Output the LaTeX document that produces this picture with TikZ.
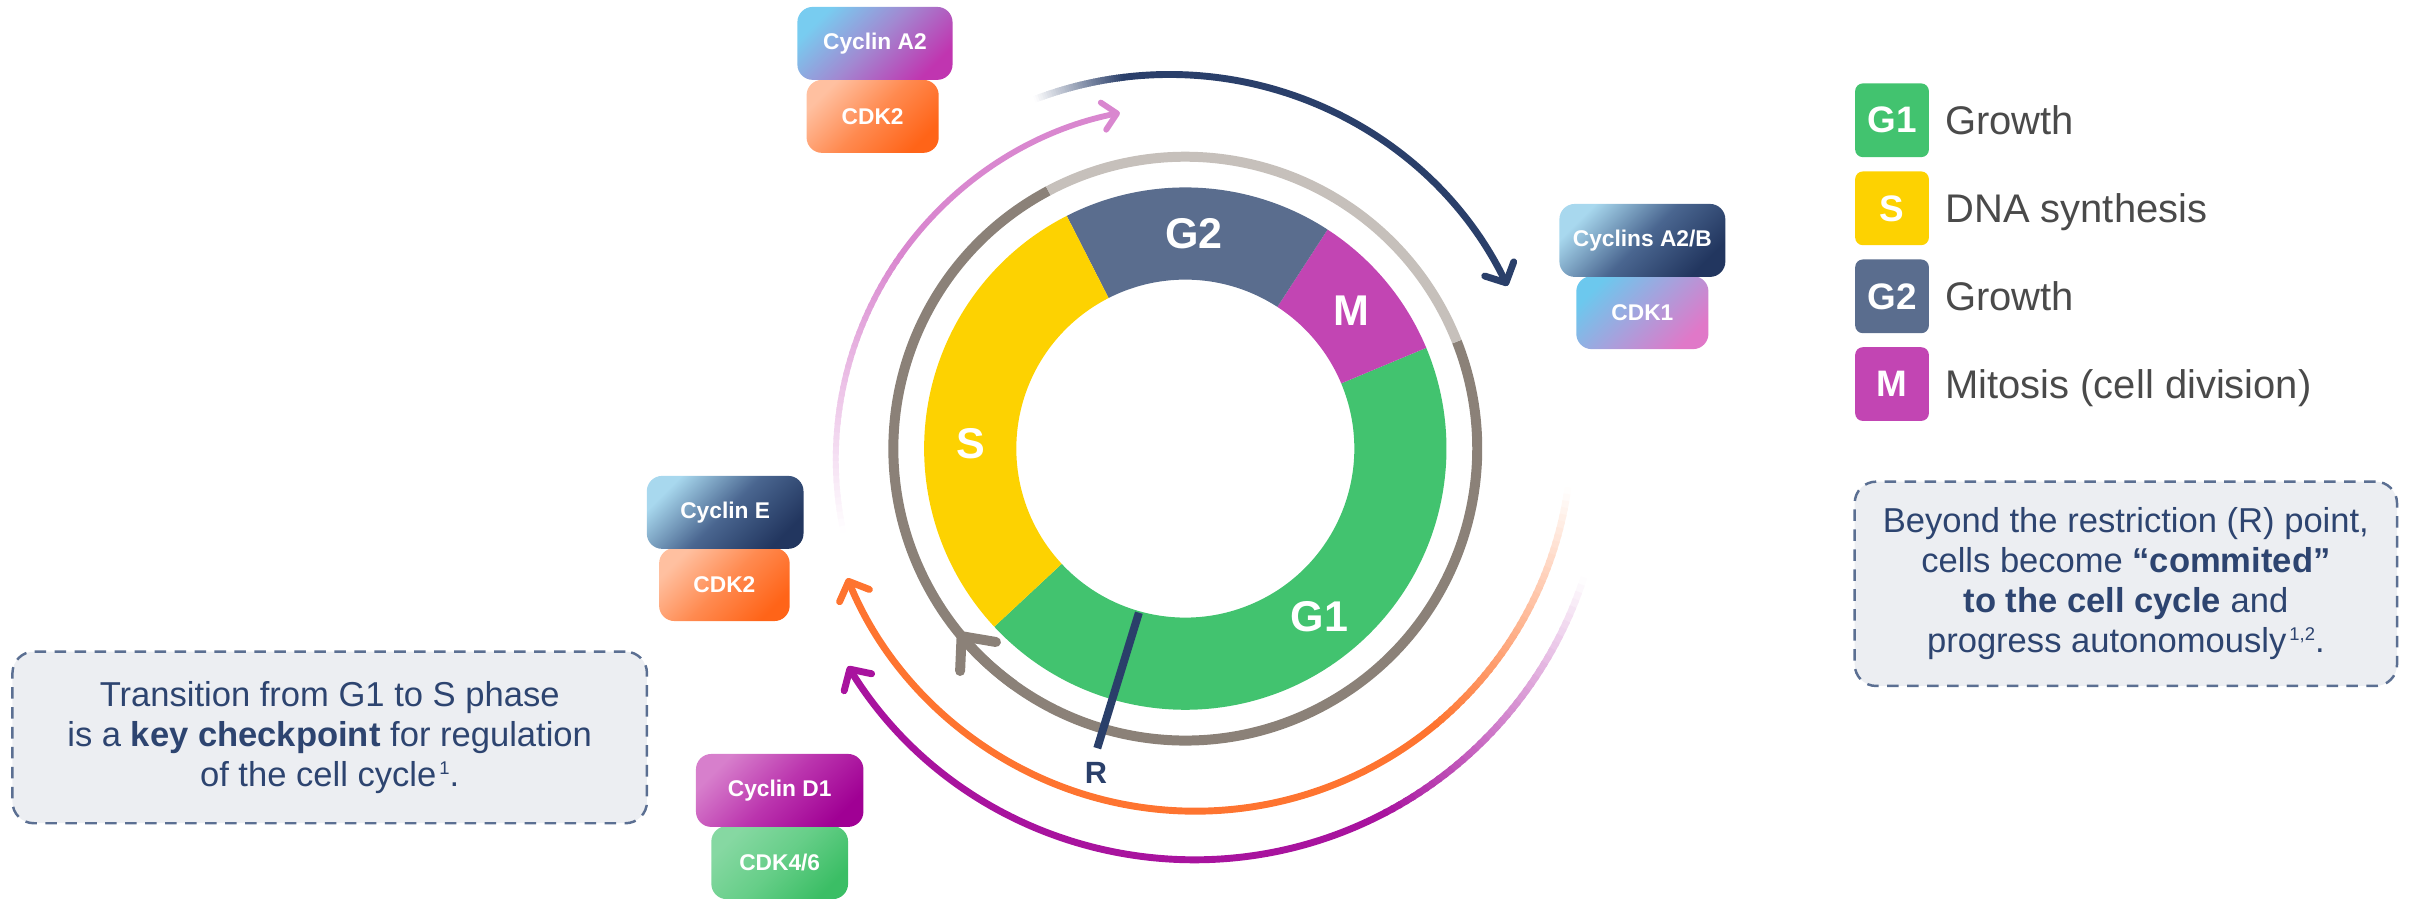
\documentclass[tikz,border=0pt]{standalone}
\usepackage{fontspec}
\setmainfont{Liberation Sans}
\usetikzlibrary{arrows.meta}
\definecolor{cG1}{HTML}{42C36F}
\definecolor{cS}{HTML}{FDD201}
\definecolor{cG2}{HTML}{5A6D8E}
\definecolor{cM}{HTML}{C245B3}
\definecolor{navy}{HTML}{2A3F6A}
\definecolor{rdark}{HTML}{8B8178}
\definecolor{rlight}{HTML}{C6C0BB}
\definecolor{pinkarc}{HTML}{D987CF}
\definecolor{orangearc}{HTML}{FE7430}
\definecolor{purplearc}{HTML}{A8139E}
\definecolor{legtext}{HTML}{4A4A4A}
\definecolor{notefill}{HTML}{ECEEF2}
\definecolor{notedraw}{HTML}{5B6F92}
\definecolor{notetext}{HTML}{2D4470}
\definecolor{gA2a}{HTML}{78CCF0}\definecolor{gA2m}{HTML}{A386D0}\definecolor{gA2b}{HTML}{C035B0}
\definecolor{gK2a}{HTML}{FFC0A0}\definecolor{gK2m}{HTML}{FF8A50}\definecolor{gK2b}{HTML}{FF6418}
\definecolor{gABa}{HTML}{A8D8EE}\definecolor{gABm}{HTML}{4A6690}\definecolor{gABb}{HTML}{22365F}
\definecolor{gK1a}{HTML}{6CC8EE}\definecolor{gK1m}{HTML}{A8A0DC}\definecolor{gK1b}{HTML}{E078C8}
\definecolor{gEa}{HTML}{A8D8EE}\definecolor{gEm}{HTML}{4A6690}\definecolor{gEb}{HTML}{22365F}
\definecolor{gDa}{HTML}{D77FCC}\definecolor{gDm}{HTML}{BB35AE}\definecolor{gDb}{HTML}{A00094}
\definecolor{gK4a}{HTML}{86D8A2}\definecolor{gK4m}{HTML}{66CE88}\definecolor{gK4b}{HTML}{3BBE65}
\newcommand\cbxfont{\fontsize{14.8}{17}\selectfont\bfseries}
\newcommand\ntfont{\fontsize{22.5}{26}\selectfont}
\newcommand\lgsqfont{\fontsize{24}{28}\selectfont\bfseries}
\newcommand\lgfont{\fontsize{26}{30}\selectfont}
\newcommand\phfont{\fontsize{28}{32}\selectfont\bfseries}
\newcommand\mysup[1]{\kern2pt\raisebox{8pt}{\fontsize{12}{12}\selectfont #1}}
% fading arc: cx, cy, r, a-start(faint), a-solid, a-tip, colour, width, tip options
\newcommand\fadearc[9]{%
  \foreach \k in {0,...,39}{%
    \pgfmathsetmacro\aa{#4+(#5-#4)*\k/40}%
    \pgfmathsetmacro\ab{#4+(#5-#4)*(\k+1.4)/40}%
    \pgfmathtruncatemacro\pp{100*(\k+0.5)/40}%
    \draw[line width=#8, color=#7!\pp!white] ([shift={(#1,#2)}]\aa:#3) arc[start angle=\aa, end angle=\ab, radius=#3];
  }%
  \draw[line width=#8, color=#7, -{Straight Barb[#9,round]}] ([shift={(#1,#2)}]#5:#3) arc[start angle=#5, end angle=#6, radius=#3];
}
\newcommand\sector[3]{%
  \fill[#1] ([shift={(C)}]#2:170) arc[start angle=#2,end angle=#3,radius=170] -- ([shift={(C)}]#3:110) arc[start angle=#3,end angle=#2,radius=110] -- cycle;}
\begin{document}
\begin{tikzpicture}[x=1pt,y=1pt,
  cbox/.style={rounded corners=10pt, minimum height=47.5pt, inner sep=0pt, text=white, font=\cbxfont},
  grad/.style n args={3}{top color=#1, bottom color=#3, middle color=#2, shading angle=45},
  note/.style={draw=notedraw, fill=notefill, dash pattern=on 7.5pt off 5.5pt, line width=1.6pt, rounded corners=14pt, text=notetext, align=center, font=\ntfont, inner sep=0pt},
  legsq/.style={minimum size=48pt, rounded corners=5pt, inner sep=0pt, text=white, font=\lgsqfont},
  legtxt/.style={text=legtext, font=\lgfont, anchor=base west, inner sep=0pt},
  phase/.style={text=white, font=\phfont, inner sep=0pt}]
\useasboundingbox (0,0) rectangle (1568,585);
\coordinate (C) at (771.5,293);
% outer cyclin arcs
\fadearc{774}{286}{230}{192}{145}{101.3}{pinkarc}{3.8pt}{length=9pt,width=18pt}
\fadearc{761}{291.5}{245}{111}{97}{26}{navy}{4.5pt}{length=10pt,width=21pt}
\fadearc{778}{302}{245}{-8}{-50}{-157.6}{orangearc}{4.5pt}{length=10pt,width=21pt}
\fadearc{778}{291.5}{266}{-18}{-62}{-148.2}{purplearc}{4.5pt}{length=10pt,width=21pt}
% phase ring
\sector{cG1}{-137}{22.7}
\sector{cM}{22.7}{57}
\sector{cG2}{57}{117}
\sector{cS}{117}{223}
% grey ring
\draw[rdark, line width=6.5pt] ([shift={(C)}]118:190) arc[start angle=118, end angle=381.5, radius=190];
\draw[rlight, line width=6.5pt] ([shift={(C)}]21.5:190) arc[start angle=21.5, end angle=118, radius=190];
\draw[rdark, line width=6.5pt, -{Straight Barb[length=17pt,width=30pt,round]}] ([shift={(C)}]234:190) arc[start angle=234, end angle=219, radius=190];
% restriction point
\coordinate (rtop) at (741.3,186.2);
\coordinate (rbot) at (714.2,98);
\draw[navy, line width=5.2pt] (rtop) -- (rbot);
\node[text=navy, font=\fontsize{20}{24}\selectfont\bfseries, inner sep=0pt] (lblR) at (713.4,82) {R};
% phase labels
\node[phase] (lblG2) at (777,433) {G2};
\node[phase] (lblM) at (879.4,383) {M};
\node[phase] (lblS) at (632,296.5) {S};
\node[phase] (lblG1) at (858.8,183.6) {G1};
% cyclin / CDK boxes
\node[cbox, minimum width=86pt, grad={gK2a}{gK2m}{gK2b}] (cdk2a) at (568,509.25) {CDK2};
\node[cbox, minimum width=101pt, grad={gA2a}{gA2m}{gA2b}] (cycA2) at (569.5,556.75) {Cyclin A2};
\node[cbox, minimum width=86pt, grad={gK1a}{gK1m}{gK1b}] (cdk1) at (1069,381.5) {CDK1};
\node[cbox, minimum width=108pt, grad={gABa}{gABm}{gABb}] (cycAB) at (1069,428.5) {Cyclins A2/B};
\node[cbox, minimum width=85pt, grad={gK2a}{gK2m}{gK2b}] (cdk2e) at (471.5,204.5) {CDK2};
\node[cbox, minimum width=102pt, grad={gEa}{gEm}{gEb}] (cycE) at (472,251.5) {Cyclin E};
\node[cbox, minimum width=89pt, grad={gK4a}{gK4m}{gK4b}] (cdk46) at (507.5,23.5) {CDK4/6};
\node[cbox, minimum width=109pt, grad={gDa}{gDm}{gDb}] (cycD1) at (507.5,70.5) {Cyclin D1};
% notes
\node[note, minimum width=413pt, minimum height=111.7pt] (noteL) at (214.6,105) {Transition from G1 to S phase\\ is a \textbf{key checkpoint} for regulation\\ of the cell cycle\mysup{1}.};
\node[note, minimum width=353pt, minimum height=133pt] (noteR) at (1383.7,205) {Beyond the restriction (R) point,\\ cells become \textbf{“commited”}\\ \textbf{to the cell cycle} and\\ progress autonomously\mysup{1,2}.};
% legend
\node[legsq, fill=cG1] (lgG1) at (1231.5,506.7) {G1};
\node[legsq, fill=cS] (lgS) at (1231.5,449.4) {S};
\node[legsq, fill=cG2] (lgG2) at (1231.5,392.1) {G2};
\node[legsq, fill=cM] (lgM) at (1231.5,335) {M};
\node[legtxt] (ltG1) at (1266,497.4) {Growth};
\node[legtxt] (ltS) at (1266,440.1) {DNA synthesis};
\node[legtxt] (ltG2) at (1266,382.8) {Growth};
\node[legtxt] (ltM) at (1266,325.7) {Mitosis (cell division)};
\end{tikzpicture}
\end{document}
